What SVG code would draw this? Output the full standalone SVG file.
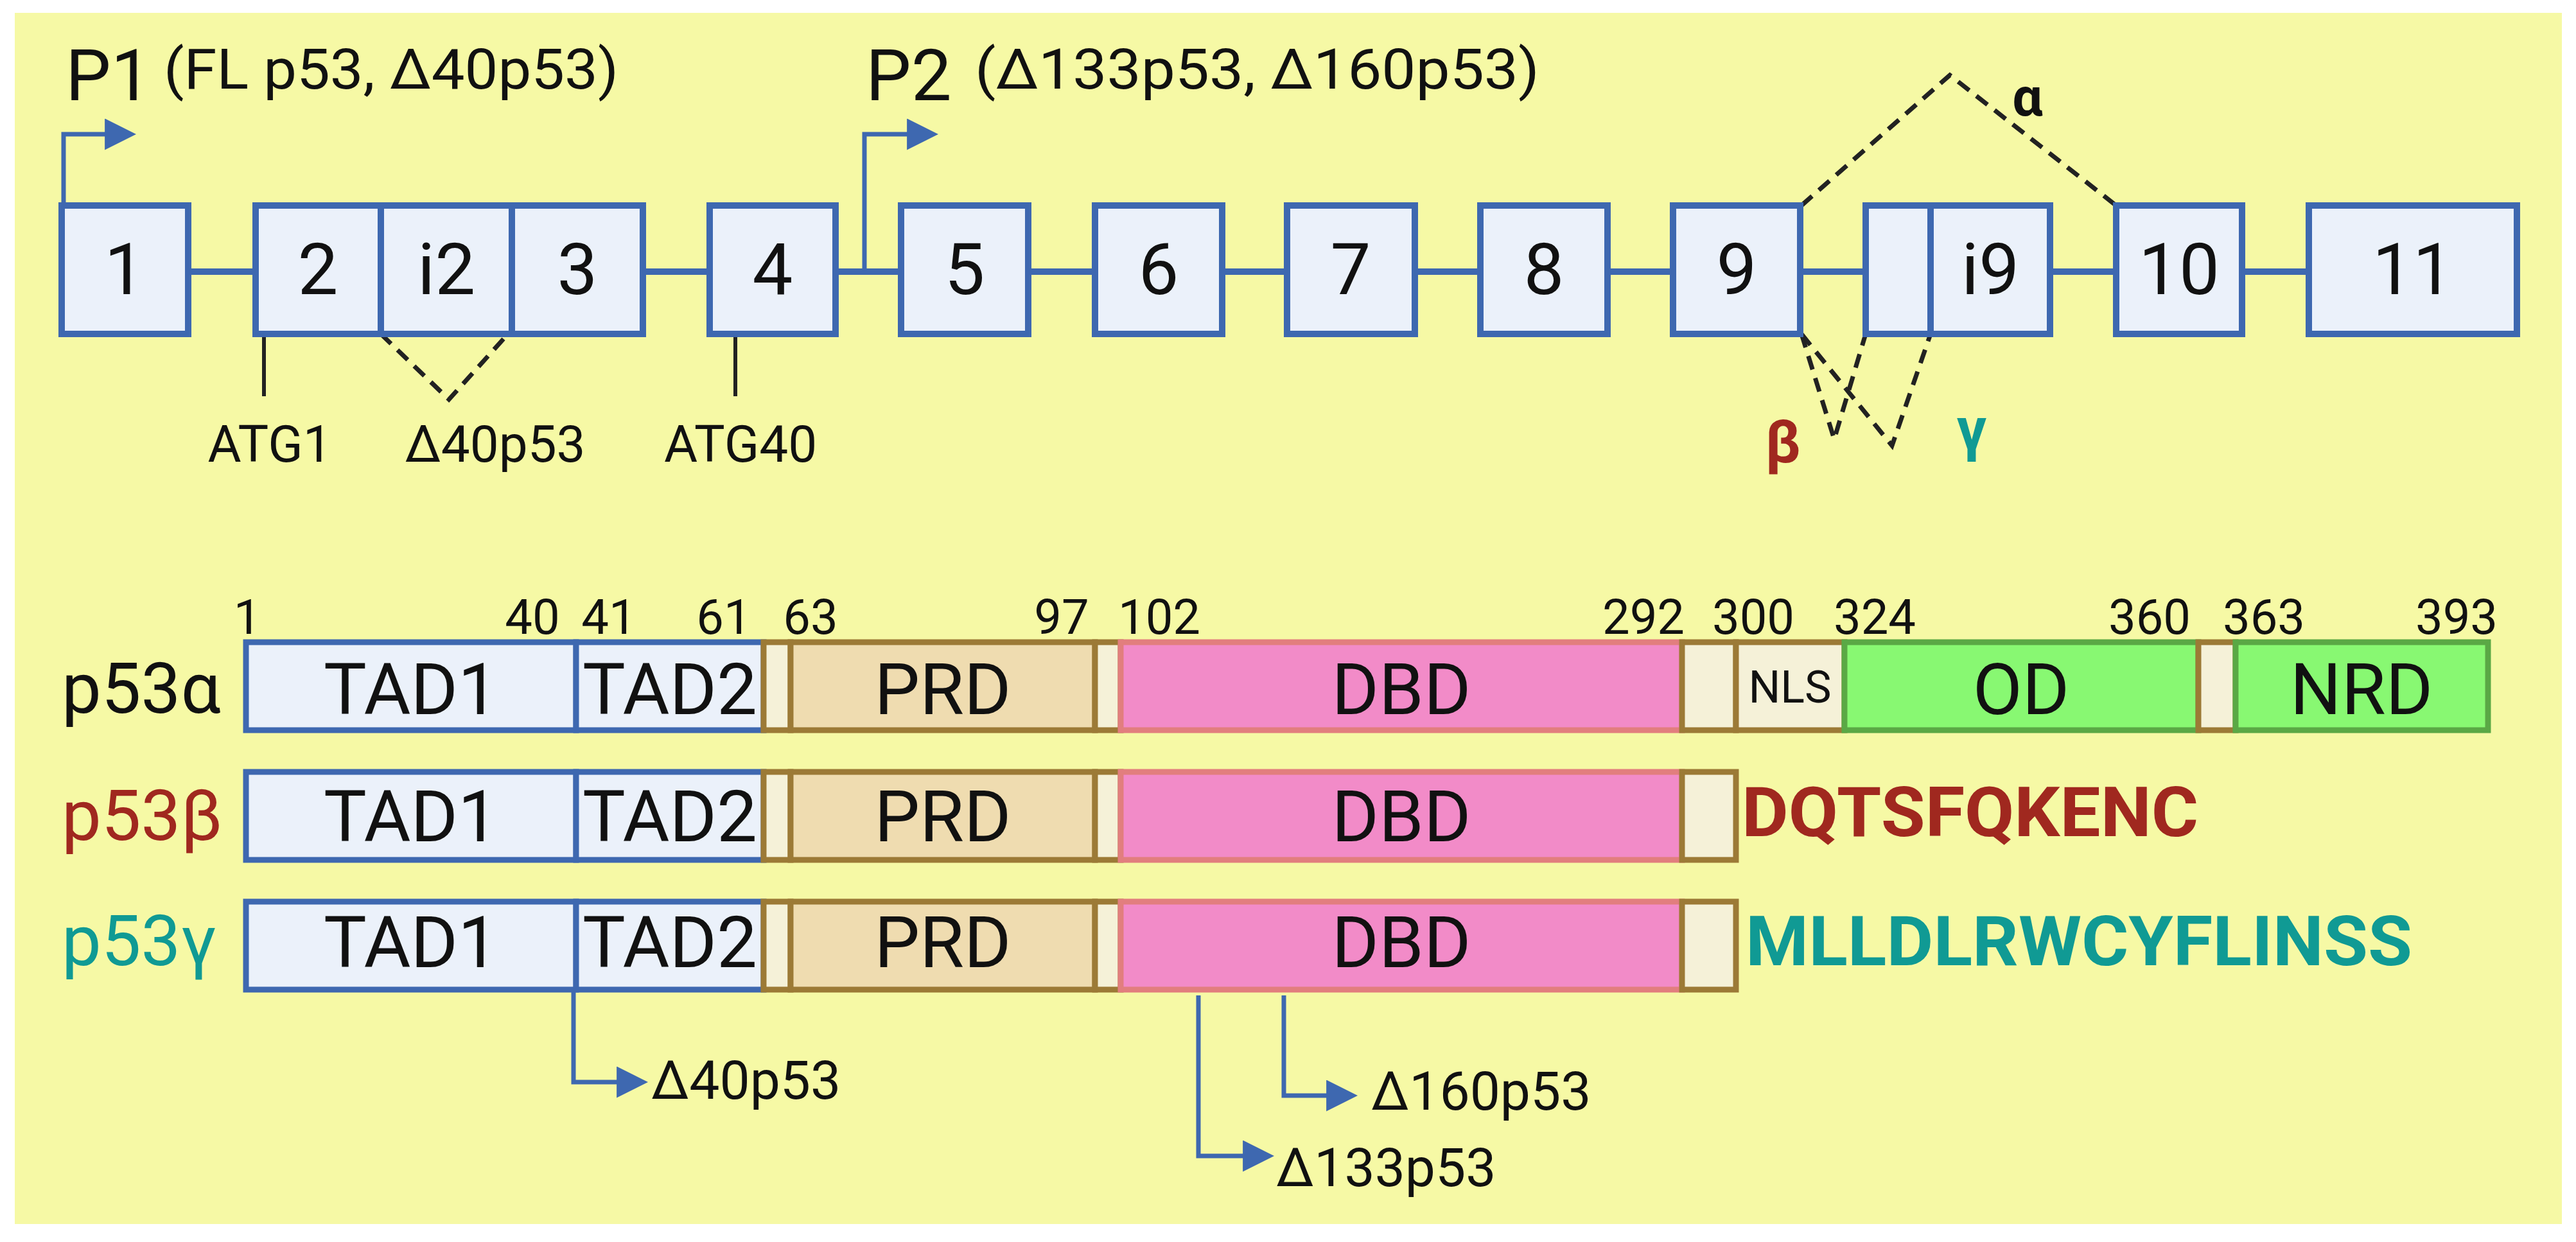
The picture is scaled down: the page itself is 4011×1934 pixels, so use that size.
<svg xmlns="http://www.w3.org/2000/svg" width="4011" height="1934" viewBox="0 0 4011 1934">
<style>
text{font-family:Roboto,"Liberation Sans",sans-serif;fill:#111}
.ex{fill:#ebf1fa;stroke:#3e68b0;stroke-width:10}
.en{font-size:112px;text-anchor:middle}
.dash{fill:none;stroke:#222;stroke-width:7;stroke-dasharray:22 14}
.bl{fill:none;stroke:#3e68b0;stroke-width:7}
.tad{fill:#ebf1fa;stroke:#3e68b0;stroke-width:9}
.prd{fill:#efdcb0;stroke:#9c7a36;stroke-width:9}
.sm{fill:#f5f1d8;stroke:#9c7a36;stroke-width:9}
.dbd{fill:#f28bc8;stroke:#e27e7e;stroke-width:9}
.od{fill:#88f872;stroke:#5aa845;stroke-width:9}
.dl{font-size:112px;text-anchor:middle}
.num{font-size:76px;text-anchor:middle}
.lab{font-size:84px}
</style>
<defs>
<marker id="ah" viewBox="0 0 10 10" refX="1" refY="5" markerWidth="7" markerHeight="7" orient="auto" markerUnits="strokeWidth"><path d="M0,0 L10,5 L0,10 z" fill="#3e68b0"/></marker>
</defs>
<rect x="0" y="0" width="4011" height="1934" fill="#fff"/>
<rect x="23" y="20" width="3966" height="1886" fill="#f6f9a5"/>

<g id="connectors">
<line x1="96" y1="423" x2="3919" y2="423" stroke="#3e68b0" stroke-width="10"/>
<path class="bl" d="M99,323 V209 H168" marker-end="url(#ah)"/>
<path class="bl" d="M1346,423 V209 H1417" marker-end="url(#ah)"/>
<line x1="411" y1="525" x2="411" y2="617" stroke="#222" stroke-width="6"/>
<line x1="1145" y1="525" x2="1145" y2="617" stroke="#222" stroke-width="6"/>
<path class="dash" d="M593,520 L699,622 L791,520"/>
<path class="dash" d="M2805,320 L3036,117 L3295,320"/>
<path class="dash" d="M2805,520 L2856,684 L2905,520"/>
<path class="dash" d="M2805,520 L2946,694 L3006,520"/>
<path class="bl" d="M893,1541 V1685 H965" marker-end="url(#ah)"/>
<path class="bl" d="M1866,1550 V1800 H1940" marker-end="url(#ah)"/>
<path class="bl" d="M1999,1550 V1706 H2070" marker-end="url(#ah)"/>
</g>

<g id="promoters">
<text x="102" y="156" font-size="112">P1</text>
<text x="255" y="138" font-size="88" textLength="708" lengthAdjust="spacingAndGlyphs">(FL p53, Δ40p53)</text>
<text x="1348" y="156" font-size="112">P2</text>
<text x="1518" y="138" font-size="88" textLength="879" lengthAdjust="spacingAndGlyphs">(Δ133p53,  Δ160p53)</text>
</g>

<g id="exon1"><rect class="ex" x="96" y="320" width="197" height="200"/><text class="en" x="194" y="458">1</text></g>
<g id="exon2"><rect class="ex" x="398" y="320" width="195" height="200"/><text class="en" x="495" y="458">2</text></g>
<g id="exoni2"><rect class="ex" x="593" y="320" width="204" height="200"/><text class="en" x="695" y="458">i2</text></g>
<g id="exon3"><rect class="ex" x="797" y="320" width="204" height="200"/><text class="en" x="899" y="458">3</text></g>
<g id="exon4"><rect class="ex" x="1105" y="320" width="196" height="200"/><text class="en" x="1203" y="458">4</text></g>
<g id="exon5"><rect class="ex" x="1403" y="320" width="198" height="200"/><text class="en" x="1502" y="458">5</text></g>
<g id="exon6"><rect class="ex" x="1705" y="320" width="198" height="200"/><text class="en" x="1804" y="458">6</text></g>
<g id="exon7"><rect class="ex" x="2004" y="320" width="199" height="200"/><text class="en" x="2103" y="458">7</text></g>
<g id="exon8"><rect class="ex" x="2305" y="320" width="198" height="200"/><text class="en" x="2404" y="458">8</text></g>
<g id="exon9"><rect class="ex" x="2605" y="320" width="198" height="200"/><text class="en" x="2704" y="458">9</text></g>
<g id="exon9b"><rect class="ex" x="2905" y="320" width="101" height="200"/></g>
<g id="exoni9"><rect class="ex" x="3006" y="320" width="186" height="200"/><text class="en" x="3099" y="458">i9</text></g>
<g id="exon10"><rect class="ex" x="3295" y="320" width="196" height="200"/><text class="en" x="3393" y="458">10</text></g>
<g id="exon11"><rect class="ex" x="3595" y="320" width="324" height="200"/><text class="en" x="3757" y="458">11</text></g>

<g id="gene-labels">
<text x="420" y="719" font-size="80" text-anchor="middle">ATG1</text>
<text x="771" y="719" font-size="80" text-anchor="middle">Δ40p53</text>
<text x="1153" y="719" font-size="80" text-anchor="middle">ATG40</text>
<text x="3157" y="180" font-size="84" font-weight="bold" text-anchor="middle">α</text>
<text x="2776" y="720" font-size="92" font-weight="bold" text-anchor="middle" style="fill:#a0281f">β</text>
<text x="3070" y="700" font-size="92" font-weight="bold" text-anchor="middle" style="fill:#109a94">γ</text>
</g>

<g id="positions">
<text class="num" x="385" y="987">1</text>
<text class="num" x="829" y="987">40</text>
<text class="num" x="948" y="987">41</text>
<text class="num" x="1127" y="987">61</text>
<text class="num" x="1262" y="987">63</text>
<text class="num" x="1653" y="987">97</text>
<text class="num" x="1805" y="987">102</text>
<text class="num" x="2559" y="987">292</text>
<text class="num" x="2730" y="987">300</text>
<text class="num" x="2919" y="987">324</text>
<text class="num" x="3347" y="987">360</text>
<text class="num" x="3525" y="987">363</text>
<text class="num" x="3825" y="987">393</text>
</g>

<g id="p53alpha">
<text x="96" y="1110" font-size="110">p53α</text>
<rect class="tad" x="383" y="1000" width="514" height="137"/><text class="dl" x="640" y="1112">TAD1</text>
<rect class="tad" x="897" y="1000" width="292" height="137"/><text class="dl" x="1043" y="1112">TAD2</text>
<rect class="sm" x="1189" y="1000" width="42" height="137"/>
<rect class="prd" x="1231" y="1000" width="474" height="137"/><text class="dl" x="1468" y="1112">PRD</text>
<rect class="sm" x="1705" y="1000" width="40" height="137"/>
<rect class="dbd" x="1745" y="1000" width="874" height="137"/><text class="dl" x="2182" y="1112">DBD</text>
<rect class="sm" x="2619" y="1000" width="84" height="137"/>
<rect class="sm" x="2703" y="1000" width="169" height="137"/><text x="2787" y="1094" font-size="70" text-anchor="middle">NLS</text>
<rect class="od" x="2872" y="1000" width="551" height="137"/><text class="dl" x="3147" y="1112">OD</text>
<rect class="sm" x="3423" y="1000" width="58" height="137"/>
<rect class="od" x="3481" y="1000" width="393" height="137"/><text class="dl" x="3677" y="1112">NRD</text>
</g>

<g id="p53beta">
<text x="96" y="1308" font-size="110" style="fill:#a0281f">p53β</text>
<rect class="tad" x="383" y="1202" width="514" height="137"/><text class="dl" x="640" y="1310">TAD1</text>
<rect class="tad" x="897" y="1202" width="292" height="137"/><text class="dl" x="1043" y="1310">TAD2</text>
<rect class="sm" x="1189" y="1202" width="42" height="137"/>
<rect class="prd" x="1231" y="1202" width="474" height="137"/><text class="dl" x="1468" y="1310">PRD</text>
<rect class="sm" x="1705" y="1202" width="40" height="137"/>
<rect class="dbd" x="1745" y="1202" width="874" height="137"/><text class="dl" x="2182" y="1310">DBD</text>
<rect class="sm" x="2619" y="1202" width="84" height="137"/>
<text x="2712" y="1302" font-size="108" font-weight="bold" style="fill:#a0281f" textLength="711" lengthAdjust="spacingAndGlyphs">DQTSFQKENC</text>
</g>

<g id="p53gamma">
<text x="96" y="1503" font-size="110" style="fill:#109a94">p53γ</text>
<rect class="tad" x="383" y="1404" width="514" height="137"/><text class="dl" x="640" y="1506">TAD1</text>
<rect class="tad" x="897" y="1404" width="292" height="137"/><text class="dl" x="1043" y="1506">TAD2</text>
<rect class="sm" x="1189" y="1404" width="42" height="137"/>
<rect class="prd" x="1231" y="1404" width="474" height="137"/><text class="dl" x="1468" y="1506">PRD</text>
<rect class="sm" x="1705" y="1404" width="40" height="137"/>
<rect class="dbd" x="1745" y="1404" width="874" height="137"/><text class="dl" x="2182" y="1506">DBD</text>
<rect class="sm" x="2619" y="1404" width="84" height="137"/>
<text x="2718" y="1503" font-size="108" font-weight="bold" style="fill:#109a94" textLength="1038" lengthAdjust="spacingAndGlyphs">MLLDLRWCYFLINSS</text>
</g>

<g id="isoform-labels">
<text class="lab" x="1014" y="1711">Δ40p53</text>
<text class="lab" x="1987" y="1847">Δ133p53</text>
<text class="lab" x="2135" y="1728">Δ160p53</text>
</g>
</svg>
